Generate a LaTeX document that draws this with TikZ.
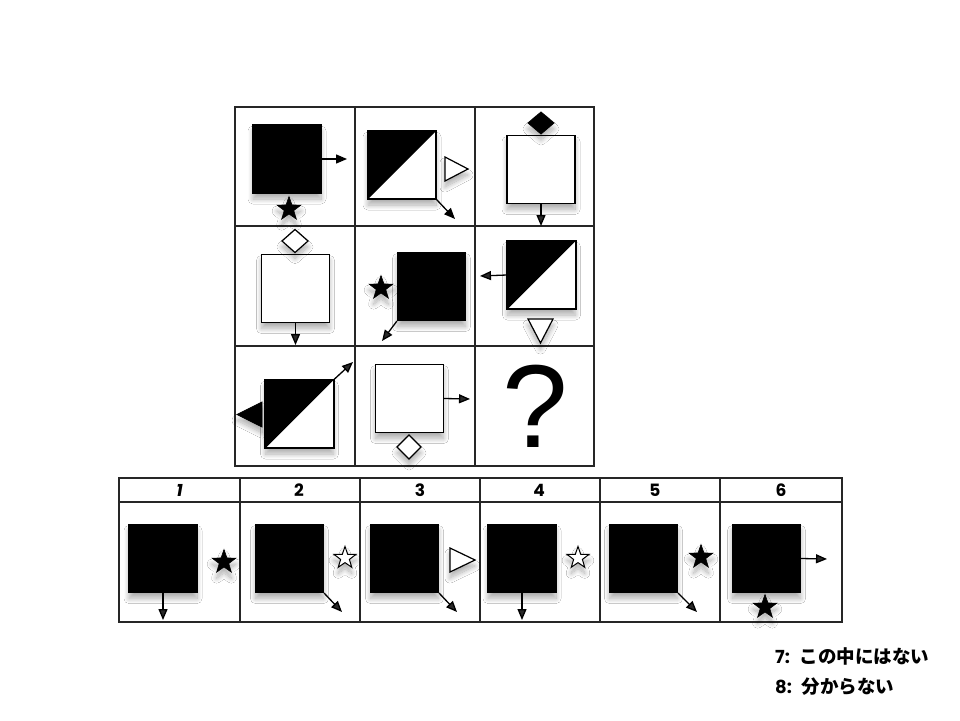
\documentclass[tikz,border=0pt]{standalone}
\usepackage{fontspec}
\setsansfont{Liberation Sans}
\newfontfamily\cjk{Noto Sans CJK JP}
\newfontfamily\numfont{Poppins}
\usetikzlibrary{arrows.meta,shapes.geometric,shadows.blur}
\tikzset{
  shd/.style={blur shadow={shadow xshift=0pt, shadow yshift=-6pt, shadow blur steps=16, shadow opacity=32, shadow blur radius=5pt}},
  sq/.style={draw=black, line width=1.2pt, minimum size=68pt, inner sep=0pt, shd},
  bsq/.style={sq, fill=black},
  wsq/.style={sq, fill=white},
  arr/.style={line width=1.3pt, -{Triangle[length=11pt,width=9pt]}},
  gridln/.style={line width=1.1pt, draw=black!85},
  bstar/.style={star, star points=5, star point ratio=2.5, fill=black, draw=black, line width=0.6pt, minimum size=25pt, inner sep=0pt, shd},
  wstar/.style={star, star points=5, star point ratio=2.5, fill=white, draw=black, line width=1pt, minimum size=23pt, inner sep=0pt, shd},
  bshape/.style={fill=black, draw=black, line width=0.8pt, shd},
  wshape/.style={fill=white, draw=black, line width=1.2pt, shd},
  num/.style={font=\numfont\bfseries\fontsize{17}{17}\selectfont},
}
\begin{document}
\begin{tikzpicture}[x=1pt,y=-1pt]
\useasboundingbox (0,0) rectangle (960,720);
\fill[white] (0,0) rectangle (960,720);

% matrix grid
\draw[gridln] (235,107) rectangle (594,466);
\draw[gridln] (355,107) -- (355,466) (475,107) -- (475,466)
              (235,226) -- (594,226) (235,346) -- (594,346);

% cell 1
\node[bsq] (c1) at (287,159) {};
\coordinate (c1e) at (347,159);
\draw[arr] (c1.east) -- (c1e);
\node[bstar] (c1s) at (289,209) {};

% cell 2
\node[wsq] (c2) at (402,165) {};
\fill (c2.south west) -- (c2.north west) -- (c2.north east) -- cycle;
\draw[line width=1.2pt] (c2.south west) rectangle (c2.north east);
\coordinate (c2e) at (455,219);
\draw[arr] (c2.south east) -- (c2e);
\draw[wshape] (445,157) -- (468,169) -- (445,181) -- cycle;

% cell 3
\node[wsq] (c3) at (541,169.5) {};
\coordinate (c3e) at (541,226);
\draw[arr] (c3.south) -- (c3e);
\draw[bshape] (541,112) -- (554,123) -- (541,134) -- (528,123) -- cycle;

% cell 4
\node[wsq] (c4) at (295.5,288.5) {};
\coordinate (c4e) at (295.5,345);
\draw[arr] (c4.south) -- (c4e);
\draw[wshape] (295,229.5) -- (308,241) -- (295,252.5) -- (282,241) -- cycle;

% cell 5
\node[bsq] (c5) at (431.5,286.5) {};
\coordinate (c5e) at (382,341);
\draw[arr] (c5.south west) -- (c5e);
\node[bstar] (c5s) at (381,288) {};

% cell 6
\node[wsq] (c6) at (541.5,275) {};
\fill (c6.south west) -- (c6.north west) -- (c6.north east) -- cycle;
\draw[line width=1.2pt] (c6.south west) rectangle (c6.north east);
\coordinate (c6e) at (480,276);
\draw[arr] (c6.west) -- (c6e);
\draw[wshape] (528,319) -- (553,319) -- (540.5,343) -- cycle;

% cell 7
\node[wsq] (c7) at (299.5,414) {};
\fill (c7.south west) -- (c7.north west) -- (c7.north east) -- cycle;
\draw[line width=1.2pt] (c7.south west) rectangle (c7.north east);
\coordinate (c7e) at (353,362);
\draw[arr] (c7.north east) -- (c7e);
\draw[bshape] (262,402) -- (237,414.5) -- (262,427) -- cycle;

% cell 8
\node[wsq] (c8) at (409.5,398.5) {};
\coordinate (c8e) at (470,399);
\draw[arr] (c8.east) -- (c8e);
\draw[wshape] (409,435) -- (421,447) -- (409,459) -- (397,447) -- cycle;

% cell 9
\node[inner sep=0pt, font=\sffamily\fontsize{118}{118}\selectfont] (q) at (535,406) {?};

% answer table
\draw[gridln] (119,478) rectangle (842,622);
\draw[gridln] (119,502) -- (842,502);
\draw[gridln] (240,478) -- (240,622) (360,478) -- (360,622) (480,478) -- (480,622)
              (600,478) -- (600,622) (720,478) -- (720,622);
\node[num] (n1) at (179.5,490) {\itshape 1};
\node[num] (n2) at (299,490) {2};
\node[num] (n3) at (420,490) {3};
\node[num] (n4) at (539,490) {4};
\node[num] (n5) at (655,490) {5};
\node[num] (n6) at (781,490) {6};

% answer 1
\node[bsq] (a1) at (163,558.5) {};
\coordinate (a1e) at (163,620);
\draw[arr] (a1.south) -- (a1e);
\node[bstar] (a1s) at (224,562) {};
% answer 2
\node[bsq] (a2) at (289.5,558.5) {};
\coordinate (a2e) at (342,612);
\draw[arr] (a2.south east) -- (a2e);
\node[wstar] (a2s) at (345,558) {};
% answer 3
\node[bsq] (a3) at (404.5,558.5) {};
\coordinate (a3e) at (457,612);
\draw[arr] (a3.south east) -- (a3e);
\draw[wshape] (450,548) -- (475,560) -- (450,572) -- cycle;
% answer 4
\node[bsq] (a4) at (522,558.5) {};
\coordinate (a4e) at (522,620);
\draw[arr] (a4.south) -- (a4e);
\node[wstar] (a4s) at (578,558) {};
% answer 5
\node[bsq] (a5) at (643.5,558.5) {};
\coordinate (a5e) at (697,612);
\draw[arr] (a5.south east) -- (a5e);
\node[bstar] (a5s) at (701,557) {};
% answer 6
\node[bsq] (a6) at (766.5,558.5) {};
\coordinate (a6e) at (827,559);
\draw[arr] (a6.east) -- (a6e);
\node[bstar] (a6s) at (765,607) {};

% legend
\node[anchor=west, inner sep=0pt] (t7) at (775,656) {{\numfont\bfseries\fontsize{18}{18}\selectfont 7:}\hspace{10pt}{\cjk\bfseries\fontsize{18.5}{18.5}\selectfont この中にはない}};
\node[anchor=west, inner sep=0pt] (t8) at (775,687) {{\numfont\bfseries\fontsize{18}{18}\selectfont 8:}\hspace{10pt}{\cjk\bfseries\fontsize{18.5}{18.5}\selectfont 分からない}};
\end{tikzpicture}
\end{document}
